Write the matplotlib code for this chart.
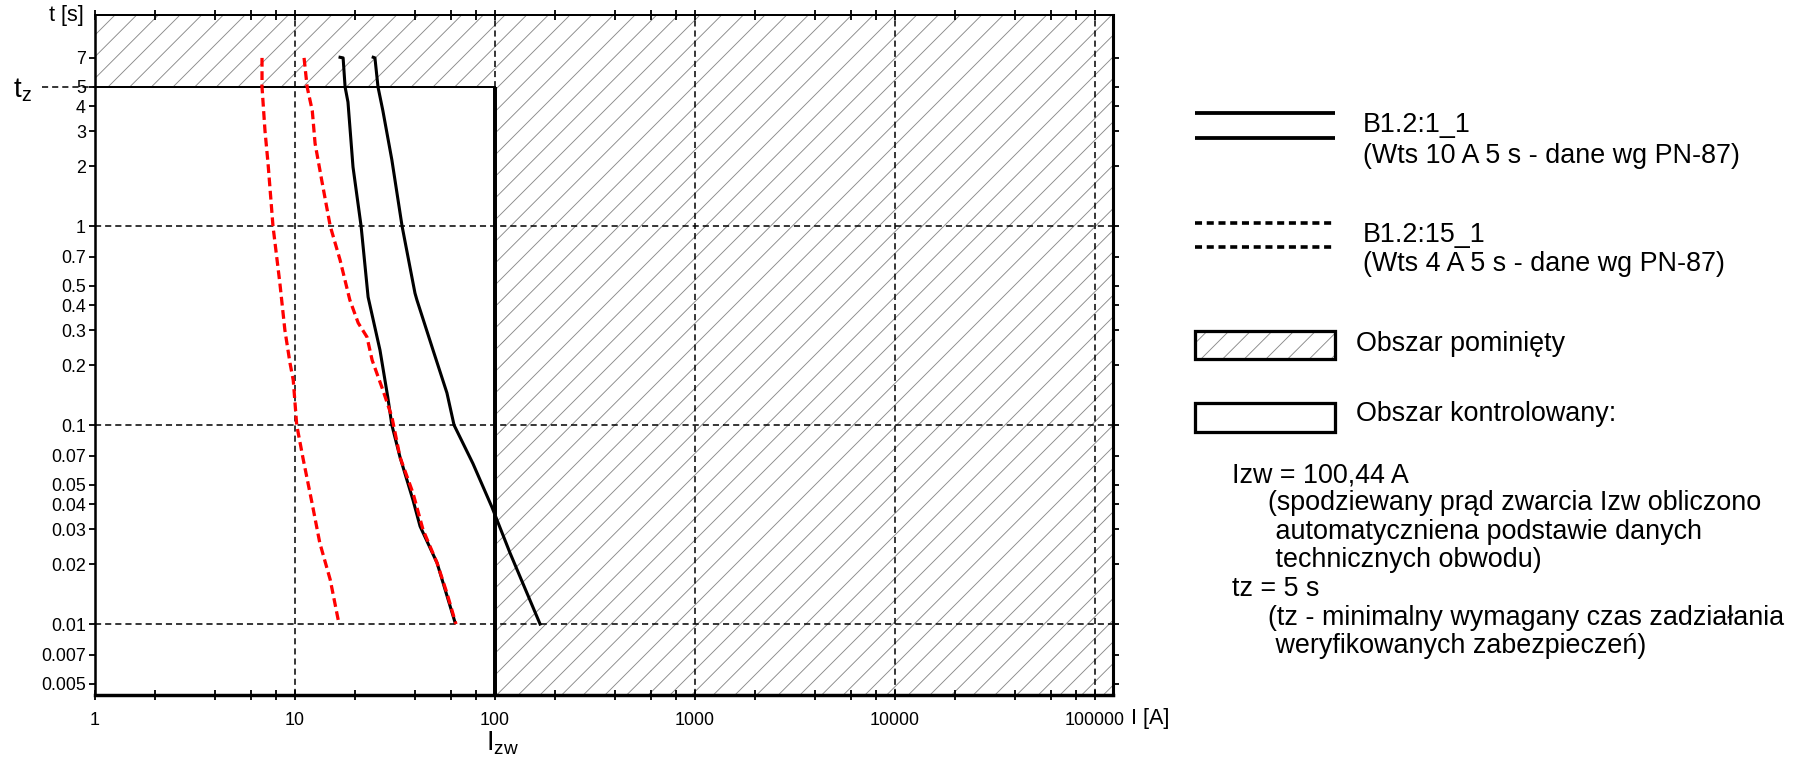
import numpy as np
import matplotlib
matplotlib.use('Agg')
import matplotlib.pyplot as plt
from matplotlib.patches import Rectangle, Polygon
from matplotlib.ticker import FixedLocator, FixedFormatter, NullFormatter

# characteristic curves: I [A], t [s]
fuse10_min_I = [16.8, 17.4, 17.8, 18.4, 19.5, 21.4, 23.2, 26.6, 29.1, 30.5, 33.5, 38.9, 42.2, 51.3, 63.1]
fuse10_min_t = [7.05, 7.0, 5.0, 4.2, 1.98, 1.0, 0.44, 0.238, 0.138, 0.1, 0.069, 0.042, 0.031, 0.0203, 0.0102]
fuse10_max_I = [24.6, 25.1, 26.0, 27.5, 30.5, 34.3, 39.8, 40.7, 49.0, 57.5, 62.4, 77.6, 96.6, 119.0, 168.0]
fuse10_max_t = [7.05, 7.0, 5.0, 3.8, 2.15, 1.0, 0.46, 0.425, 0.238, 0.145, 0.1, 0.064, 0.0386, 0.0227, 0.01]

fuse4_min_I = [6.84, 6.84, 7.08, 7.33, 7.76, 8.4, 8.9, 9.44, 9.8, 10.2, 11.0, 12.2, 13.3, 15.0, 16.6]
fuse4_min_t = [7.0, 5.0, 3.0, 2.07, 1.0, 0.517, 0.3, 0.205, 0.168, 0.1, 0.067, 0.04, 0.0256, 0.0167, 0.01]
fuse4_max_I = [11.1, 11.5, 12.2, 12.6, 13.6, 15.0, 16.8, 18.8, 20.7, 22.9, 24.3, 27.5, 30.5, 33.5, 38.9, 43.7, 51.3, 57.5, 63.8]
fuse4_max_t = [7.0, 5.0, 3.8, 2.6, 1.7, 1.0, 0.675, 0.425, 0.326, 0.277, 0.212, 0.15, 0.11, 0.069, 0.0455, 0.0297, 0.0203, 0.0143, 0.01]

Izw = 100.44
tz = 5.0
I_lim = (1.0, 123000.0)
t_lim = (0.0044, 11.5)

x_major = [1, 10, 100, 1000, 10000, 100000]
x_labels = ["1", "10", "100", "1000", "10000", "100000"]
y_ticks = [7, 5, 4, 3, 2, 1, 0.7, 0.5, 0.4, 0.3, 0.2, 0.1, 0.07, 0.05, 0.04, 0.03,
           0.02, 0.01, 0.007, 0.005]
y_labels = ["7", "5", "4", "3", "2", "1", "0.7", "0.5", "0.4", "0.3", "0.2", "0.1",
            "0.07", "0.05", "0.04", "0.03", "0.02", "0.01", "0.007", "0.005"]
grid_t = [0.01, 0.1, 1]
grid_I = [10, 100, 1000, 10000, 100000]

DPI = 130
plt.rcParams['font.family'] = ['Liberation Sans', 'DejaVu Sans']
plt.rcParams['hatch.linewidth'] = 0.5
plt.rcParams['hatch.color'] = '#8a8a8a'

fig = plt.figure(figsize=(1805 / DPI, 760 / DPI), dpi=DPI)
ax = fig.add_axes([95 / 1805, 1 - 695 / 760, 1018 / 1805, 680 / 760])
ax.set_xscale('log')
ax.set_yscale('log')
ax.set_xlim(*I_lim)
ax.set_ylim(*t_lim)

# hatched area (omitted region) - L shape around the controlled box
hatch_area = Polygon([(Izw, t_lim[0]), (I_lim[1], t_lim[0]), (I_lim[1], t_lim[1]),
                      (I_lim[0], t_lim[1]), (I_lim[0], tz), (Izw, tz)],
                     closed=True, facecolor='white', edgecolor='#8a8a8a', lw=0,
                     hatch='//', zorder=0)
ax.add_patch(hatch_area)

dash = (0, (4.0, 2.6))
for v in grid_I:
    ax.axvline(v, color='black', lw=0.85, ls=dash, zorder=1)
for v in grid_t:
    ax.axhline(v, color='black', lw=0.85, ls=dash, zorder=1)

# controlled box border
ax.plot([I_lim[0], Izw], [tz, tz], color='black', lw=1.1, zorder=2)
ax.plot([Izw, Izw], [t_lim[0], tz], color='black', lw=2.2, zorder=2, solid_capstyle='butt')

# tz dashed mark left of the axis
ax.plot([-0.052, 0.0], [tz, tz], transform=ax.get_yaxis_transform(), color='black',
        lw=0.85, ls=dash, clip_on=False)

ax.plot(fuse10_min_I, fuse10_min_t, color='black', lw=1.7, zorder=3)
ax.plot(fuse10_max_I, fuse10_max_t, color='black', lw=1.7, zorder=3)
red_ls = (0, (2.7, 1.4))
ax.plot(fuse4_min_I, fuse4_min_t, color='#ff0000', lw=1.8, ls=red_ls, zorder=4)
ax.plot(fuse4_max_I, fuse4_max_t, color='#ff0000', lw=1.8, ls=red_ls, zorder=4)

# axes styling
ax.spines['left'].set_linewidth(1.4)
ax.spines['bottom'].set_linewidth(1.9)
ax.spines['right'].set_linewidth(1.7)
ax.spines['top'].set_linewidth(1.1)
for s in ax.spines.values():
    s.set_zorder(5)

ax.xaxis.set_major_locator(FixedLocator(x_major))
ax.xaxis.set_major_formatter(FixedFormatter(x_labels))
x_minor = [m * 10 ** k for k in range(0, 6) for m in (2, 4, 6, 8) if m * 10 ** k < I_lim[1]]
ax.xaxis.set_minor_locator(FixedLocator(x_minor))
ax.xaxis.set_minor_formatter(NullFormatter())
ax.tick_params(axis='x', which='both', top=True, bottom=True, direction='inout',
               length=5, width=1.0, labelsize=9.9, pad=7, colors='black')

ax.yaxis.set_major_locator(FixedLocator(y_ticks))
ax.yaxis.set_major_formatter(FixedFormatter(y_labels))
ax.yaxis.set_minor_locator(FixedLocator([]))
ax.tick_params(axis='y', which='both', left=True, right=True, direction='out',
               length=3.5, width=1.0, labelsize=9.9, pad=1.5)

ax.text(-0.028, 1.0, "t [s]", transform=ax.transAxes, ha='center', va='center',
        fontsize=12)
ax.text(1.018, -0.034, "I [A]", transform=ax.transAxes, ha='left', va='center',
        fontsize=12)
ax.annotate(r"$\mathregular{I_{zw}}$", xy=(Izw, 0), xycoords=('data', 'axes fraction'),
            xytext=(-9, -62), textcoords='offset pixels', ha='left', va='bottom',
            fontsize=15)
ax.annotate(r"$\mathregular{t_z}$", xy=(0, tz), xycoords=('axes fraction', 'data'),
            xytext=(-82, -17), textcoords='offset pixels', ha='left', va='bottom',
            fontsize=15.5)

# legend / description area, pixel coordinates
lax = fig.add_axes([0, 0, 1, 1], zorder=10)
lax.set_xlim(0, 1805)
lax.set_ylim(760, 0)
lax.axis('off')
lax.patch.set_alpha(0)

lx0, lx1 = 1195, 1335
for y in (113, 138):
    lax.plot([lx0, lx1], [y, y], color='black', lw=2.1, solid_capstyle='butt')
for y in (223, 247):
    lax.plot([lx0, lx1], [y, y], color='black', lw=2.0, ls=(0, (1.95, 1.3)))
lax.add_patch(Rectangle((lx0, 331), lx1 - lx0, 28, facecolor='white', edgecolor='#8a8a8a',
                        lw=0, hatch='//'))
lax.add_patch(Rectangle((lx0, 331), lx1 - lx0, 28, facecolor='none', edgecolor='black',
                        lw=1.8))
lax.add_patch(Rectangle((lx0, 403), lx1 - lx0, 29, facecolor='white', edgecolor='black',
                        lw=1.8))

tk = dict(fontsize=14.9, va='center', ha='left')
lax.text(1363, 125, "B1.2:1_1", **tk)
lax.text(1363, 156, "(Wts 10 A 5 s - dane wg PN-87)", **tk)
lax.text(1363, 235, "B1.2:15_1", **tk)
lax.text(1363, 264, "(Wts 4 A 5 s - dane wg PN-87)", **tk)
lax.text(1356, 344, "Obszar pominięty", **tk)
lax.text(1356, 414, "Obszar kontrolowany:", **tk)
lax.text(1232, 475, "Izw = 100,44 A", **tk)
lax.text(1268, 503, "(spodziewany prąd zwarcia Izw obliczono", **tk)
lax.text(1268, 532, " automatyczniena podstawie danych", **tk)
lax.text(1268, 560, " technicznych obwodu)", **tk)
lax.text(1232, 589, "tz = 5 s", **tk)
lax.text(1268, 618, "(tz - minimalny wymagany czas zadziałania", **tk)
lax.text(1268, 646, " weryfikowanych zabezpieczeń)", **tk)

fig.savefig("out.png", dpi=DPI)
